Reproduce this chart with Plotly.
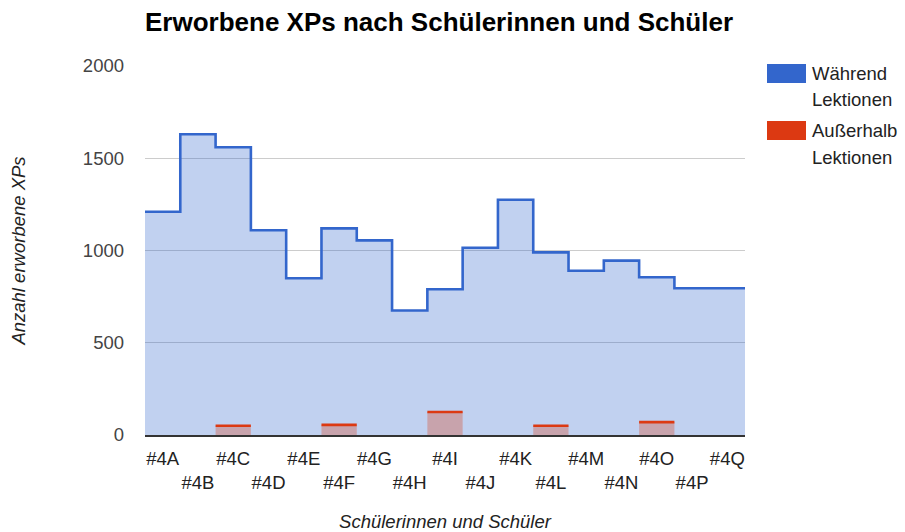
import plotly.graph_objects as go

categories = ["#4A", "#4B", "#4C", "#4D", "#4E", "#4F", "#4G", "#4H", "#4I",
              "#4J", "#4K", "#4L", "#4M", "#4N", "#4O", "#4P", "#4Q"]
waehrend = [1210, 1630, 1560, 1110, 850, 1120, 1055, 675, 790,
            1015, 1275, 990, 890, 945, 855, 795, 795]
ausserhalb = [None, None, 50, None, None, 55, None, None, 125,
              None, None, 50, None, None, 70, None, None]
y_ticks = [0, 500, 1000, 1500, 2000]

BLUE = "#3366cc"
RED = "#dc3912"
FONT = "Arial, Liberation Sans, sans-serif"
FS = 18.5

n = len(categories)
W, H = 905, 532
fig = go.Figure()

# stepped area for "Während Lektionen"
bx = [i - 0.5 for i in range(n)] + [n - 0.5]
by = waehrend + [waehrend[-1]]
fig.add_trace(go.Scatter(
    x=bx, y=by, mode="lines", line=dict(color=BLUE, width=2.6, shape="hv"),
    fill="tozeroy", fillcolor="rgba(51,102,204,0.3)", name="Während Lektionen",
    hoverinfo="skip"))

# "Außerhalb Lektionen": filled steps (drawn over the blue area) + step tops
fx, fy, rx, ry = [], [], [], []
for i, v in enumerate(ausserhalb):
    if v is None:
        continue
    fx += [i - 0.5, i - 0.5, i + 0.5, i + 0.5, None]
    fy += [0, v, v, 0, None]
    rx += [i - 0.5, i + 0.5, None]
    ry += [v, v, None]
fig.add_trace(go.Scatter(
    x=fx, y=fy, mode="lines", line=dict(width=0, color=RED),
    fill="toself", fillcolor="rgba(220,57,18,0.3)",
    hoverinfo="skip", name="Außerhalb Lektionen"))
fig.add_trace(go.Scatter(
    x=rx, y=ry, mode="lines", line=dict(color=RED, width=2.6),
    connectgaps=False, hoverinfo="skip", name="Außerhalb Lektionen"))

ticktext = [c if i % 2 == 0 else "<br>" + c for i, c in enumerate(categories)]

fig.update_layout(
    width=W, height=H,
    margin=dict(l=145, r=W - 745, t=66, b=H - 435, autoexpand=False),
    paper_bgcolor="white", plot_bgcolor="white",
    showlegend=False,
    font=dict(family=FONT, size=FS, color="#444"),
    title=dict(text="<b>Erworbene XPs nach Schülerinnen und Schüler</b>",
               x=145 / W, xanchor="left", y=1 - 22 / H, yanchor="middle",
               font=dict(family=FONT, size=26, color="#000")),
    xaxis=dict(range=[-0.5, n - 0.5], tickmode="array",
               tickvals=list(range(n)), ticktext=ticktext, tickangle=0,
               showgrid=False, zeroline=False, showline=True,
               linecolor="#333", linewidth=1.5, layer="above traces",
               ticks="", ticklabelstandoff=6, automargin=False,
               tickfont=dict(size=FS, color="#222"),
               title=dict(text="<i>Schülerinnen und Schüler</i>", standoff=23,
                          font=dict(size=FS, color="#222"))),
    yaxis=dict(range=[0, 2000], tickmode="array", tickvals=y_ticks,
               showgrid=True, gridcolor="#cccccc", gridwidth=1,
               zeroline=False, ticks="", ticklabelstandoff=20, automargin=False,
               tickfont=dict(size=FS, color="#444"),
               title=dict(text="<i>Anzahl erworbene XPs</i>", standoff=52,
                          font=dict(size=FS, color="#222"))),
)

# custom legend (large swatches, two-line labels); positions in page pixels
legend_items = [(BLUE, 64, 83, ["Während", "Lektionen"], [73, 100]),
                (RED, 121, 140, ["Außerhalb", "Lektionen"], [130, 157])]
def py(p):
    return (435 - p) / 369
def px(p):
    return (p - 145) / 600
for color, y0, y1, lines, ys in legend_items:
    fig.add_shape(type="rect", xref="paper", yref="paper",
                  x0=px(767), x1=px(806), y0=py(y1), y1=py(y0),
                  fillcolor=color, line=dict(width=0))
    for t, yy in zip(lines, ys):
        fig.add_annotation(xref="paper", yref="paper", x=px(810), y=py(yy),
                           xanchor="left", yanchor="middle", text=t,
                           showarrow=False, font=dict(size=FS, color="#222"))

fig.write_html("out.html", config={"displayModeBar": False},
               post_script="document.body.style.margin='0';document.body.style.overflow='hidden';")
